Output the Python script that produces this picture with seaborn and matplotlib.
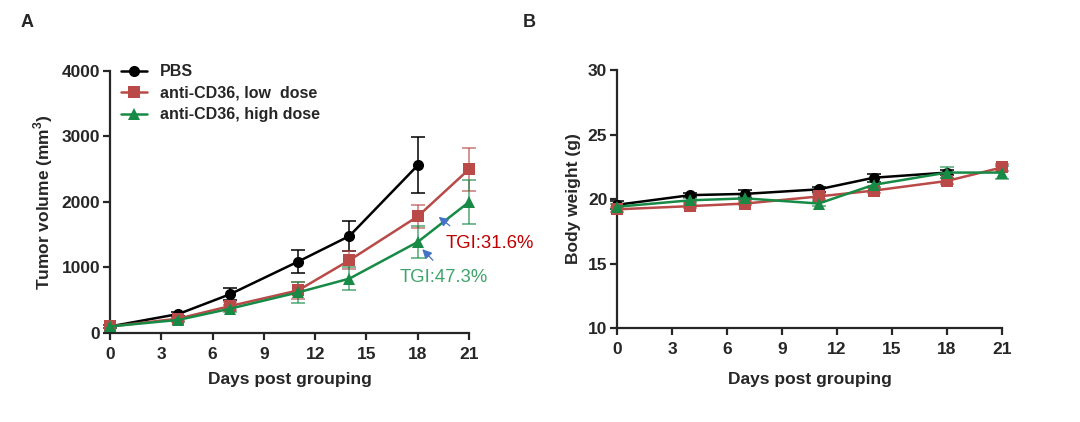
import numpy as np
import pandas as pd
import matplotlib
matplotlib.use('Agg')
import matplotlib.pyplot as plt
import seaborn as sns

# ---- data ----
groups = ['PBS', 'anti-CD36, low  dose', 'anti-CD36, high dose']

tv_days_pbs = [0, 4, 7, 11, 14, 18]
tv_pbs = [100, 290, 590, 1090, 1480, 2560]
tv_pbs_err = [20, 30, 90, 170, 230, 430]

tv_days = [0, 4, 7, 11, 14, 18, 21]
tv_low = [100, 220, 410, 650, 1110, 1780, 2500]
tv_low_err = [20, 30, 60, 130, 140, 180, 330]
tv_high = [100, 200, 370, 620, 830, 1390, 2000]
tv_high_err = [20, 30, 50, 160, 180, 240, 330]

bw_days_pbs = [0, 4, 7, 11, 14, 18]
bw_pbs = [19.55, 20.3, 20.4, 20.75, 21.65, 22.05]
bw_pbs_err = [0.3, 0.15, 0.3, 0.2, 0.3, 0.2]

bw_days = [0, 4, 7, 11, 14, 18, 21]
bw_low = [19.2, 19.45, 19.65, 20.2, 20.65, 21.4, 22.45]
bw_low_err = [0.2, 0.15, 0.15, 0.2, 0.2, 0.2, 0.3]
bw_high = [19.4, 19.9, 20.05, 19.65, 21.1, 22.05, 22.05]
bw_high_err = [0.2, 0.15, 0.15, 0.2, 0.2, 0.4, 0.5]

colors = ['#000000', '#B94A48', '#178A46']
markers = ['o', 's', '^']

tumor = pd.concat([
    pd.DataFrame({'day': tv_days_pbs, 'val': tv_pbs, 'err': tv_pbs_err, 'group': groups[0]}),
    pd.DataFrame({'day': tv_days, 'val': tv_low, 'err': tv_low_err, 'group': groups[1]}),
    pd.DataFrame({'day': tv_days, 'val': tv_high, 'err': tv_high_err, 'group': groups[2]}),
])
weight = pd.concat([
    pd.DataFrame({'day': bw_days_pbs, 'val': bw_pbs, 'err': bw_pbs_err, 'group': groups[0]}),
    pd.DataFrame({'day': bw_days, 'val': bw_low, 'err': bw_low_err, 'group': groups[1]}),
    pd.DataFrame({'day': bw_days, 'val': bw_high, 'err': bw_high_err, 'group': groups[2]}),
])

sns.set_style('ticks')
plt.rcParams['font.family'] = ['Liberation Sans', 'DejaVu Sans']
plt.rcParams['mathtext.fontset'] = 'custom'
plt.rcParams['mathtext.bf'] = 'Liberation Sans:bold'
plt.rcParams['axes.linewidth'] = 1.6

fig = plt.figure(figsize=(10.8, 4.22), dpi=100)
ax1 = fig.add_axes([0.1019, 0.2109, 0.3324, 0.6209])
ax2 = fig.add_axes([0.5713, 0.2227, 0.3565, 0.6114])


def draw(ax, df, legend, xlabelpad):
    # error bars first, lines and markers on top
    for g, c in zip(groups, colors):
        d = df[df['group'] == g]
        alpha = 1.0 if c == '#000000' else 0.75
        ax.errorbar(d['day'], d['val'], yerr=d['err'], fmt='none', ecolor=c,
                    elinewidth=1.1, capsize=5, capthick=1.1, alpha=alpha,
                    clip_on=False, zorder=2)
    sns.lineplot(data=df, x='day', y='val', hue='group', style='group',
                 hue_order=groups, style_order=groups,
                 palette=colors, markers=markers, dashes=False,
                 markersize=8, markeredgewidth=0, linewidth=1.8,
                 legend=legend, ax=ax, zorder=3, clip_on=False)
    sns.despine(ax=ax)
    ax.set_xlim(0, 21)
    ax.set_xticks(range(0, 22, 3))
    ax.tick_params(axis='both', width=1.6, length=5, labelsize=12.5)
    ax.tick_params(axis='x', pad=5)
    ax.tick_params(axis='y', pad=2)
    for lab in ax.get_xticklabels() + ax.get_yticklabels():
        lab.set_fontweight('bold')
    ax.set_xlabel('Days post grouping', fontsize=12.5, fontweight='bold', labelpad=xlabelpad)


draw(ax1, tumor, True, 7)
ax1.set_ylim(0, 4000)
ax1.set_yticks([0, 1000, 2000, 3000, 4000])
ax1.set_ylabel(r'Tumor volume (mm$^{\mathbf{3}}$)', fontsize=12.5, fontweight='bold', labelpad=5)
leg = ax1.legend(loc='upper left', bbox_to_anchor=(0.005, 1.062), frameon=False,
                 prop={'weight': 'bold', 'size': 11.5}, handlelength=1.6,
                 handletextpad=0.8, labelspacing=0.4, borderaxespad=0.2)

# TGI annotations
ax1.annotate('', xy=(19.1, 1800), xytext=(20.0, 1610),
             arrowprops=dict(arrowstyle='-|>', color='#4472C4', lw=0.9,
                             mutation_scale=14))
ax1.annotate('', xy=(18.15, 1310), xytext=(19.0, 1080),
             arrowprops=dict(arrowstyle='-|>', color='#4472C4', lw=0.9,
                             mutation_scale=14))
ax1.text(19.65, 1370, 'TGI:31.6%', color='#C00000', fontsize=13.3, va='center', ha='left')
ax1.text(16.95, 840, 'TGI:47.3%', color='#3FA36B', fontsize=13.3, va='center', ha='left')

draw(ax2, weight, False, 11)
ax2.set_ylim(10, 30)
ax2.set_yticks([10, 15, 20, 25, 30])
ax2.set_ylabel('Body weight (g)', fontsize=12.5, fontweight='bold', labelpad=5)

fig.text(0.019, 0.936, 'A', fontsize=13, fontweight='bold')
fig.text(0.484, 0.936, 'B', fontsize=13, fontweight='bold')

fig.savefig('out.png', dpi=100)
